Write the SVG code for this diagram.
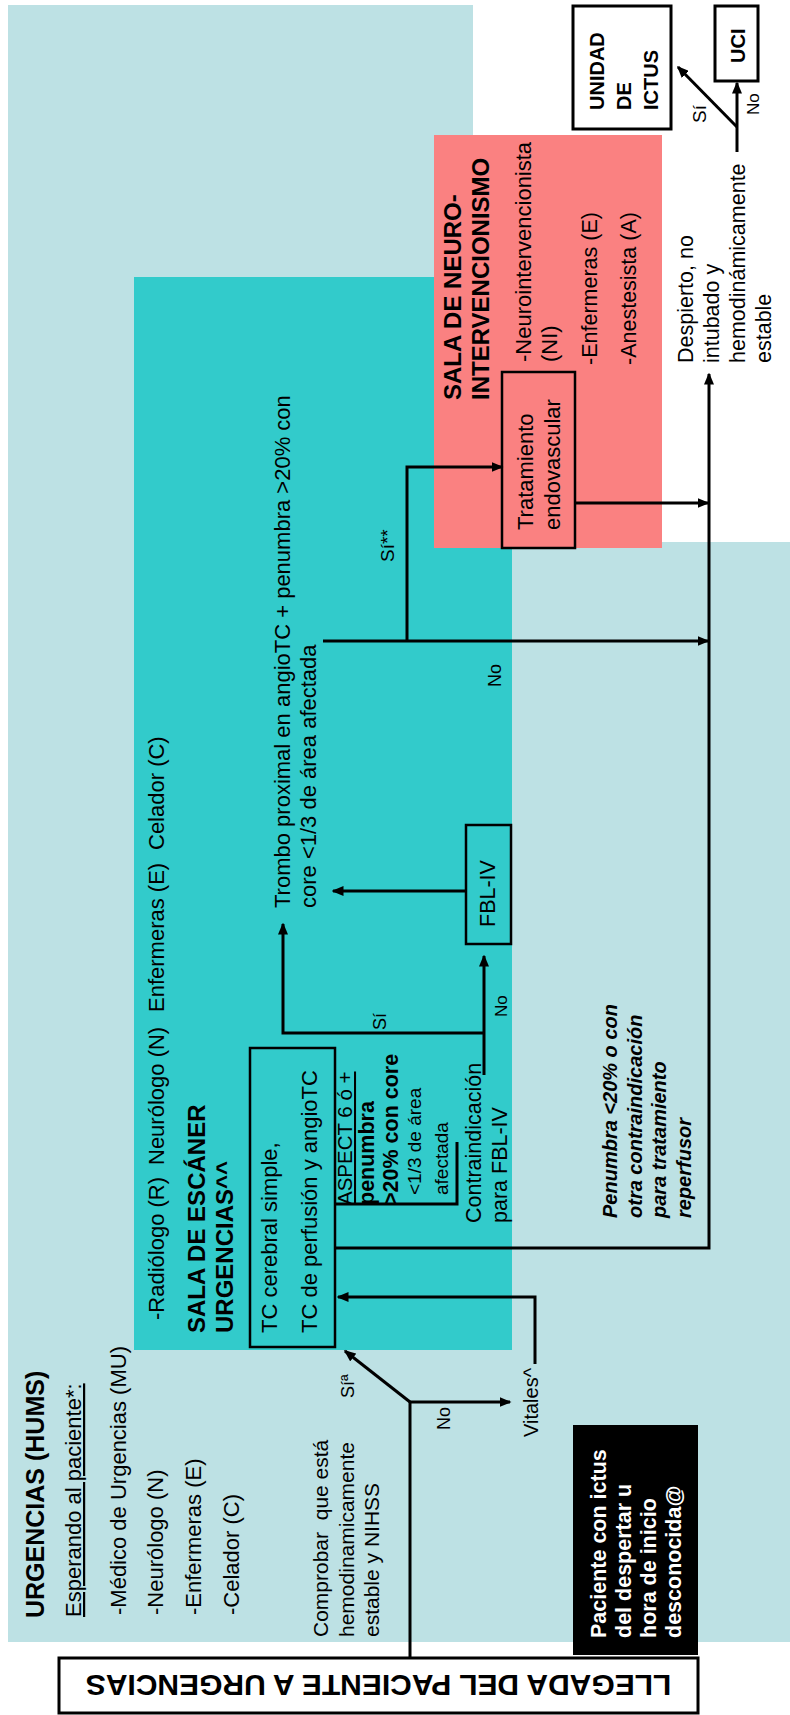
<svg xmlns="http://www.w3.org/2000/svg" width="790" height="1715" viewBox="0 0 790 1715">
<style>
.t{font-family:"Liberation Sans",Arial,Helvetica,sans-serif;font-size:22px;fill:#000}
.b{font-weight:bold}
.bi{font-weight:bold;font-style:italic}
.u{text-decoration:underline}
.w{fill:#fff}
.box{fill:none;stroke:#000;stroke-width:2.5}
.ln{fill:none;stroke:#000;stroke-width:3}
.arr{marker-end:url(#ah)}
</style>
<defs>
<marker id="ah" viewBox="0 0 12 10" refX="10.5" refY="5" markerWidth="12" markerHeight="10" markerUnits="userSpaceOnUse" orient="auto">
<path d="M0,0 L12,5 L0,10 z" fill="#000"/>
</marker>
</defs>
<rect width="790" height="1715" fill="#fff"/>
<g id="zones">
<polygon id="zone-urgencias" points="8,5 473,5 473,542 790,542 790,1642 8,1642" fill="#BDE1E4"/>
<rect id="zone-escaner" x="134" y="277" width="378" height="1073" fill="#32CBCB"/>
<rect id="zone-neuro" x="434" y="135" width="228" height="413" fill="#FA8181"/>
</g>

<g id="connectors">
<path class="ln" d="M410,1658 V1402"/>
<path class="ln arr" d="M410,1402 H510"/>
<path class="ln arr" d="M410,1402 L345,1351"/>
<path class="ln arr" d="M535,1364 V1297 H338"/>
<path class="ln arr" d="M335,1248 H709 V374"/>
<path class="ln" d="M335,1204 H457 V1142"/>
<path class="ln arr" d="M484,1075 V956"/>
<path class="ln arr" d="M484,1033 H283 V924"/>
<path class="ln arr" d="M466,891 H333"/>
<path class="ln arr" d="M323,641 H708"/>
<path class="ln arr" d="M407,641 V467 H502"/>
<path class="ln arr" d="M575,503 H708"/>
<path class="ln arr" d="M737,152 V83"/>
<path class="ln arr" d="M737,127 L678,67"/>
</g>

<g id="labels">
<text class="t" style="font-size:19px" transform="translate(706,123) rotate(-90)">Sí</text>
<text class="t" style="font-size:17px" transform="translate(759,115) rotate(-90)">No</text>
<text class="t" style="font-size:19px" transform="translate(394,562) rotate(-90)">Sí**</text>
<text class="t" style="font-size:18px" transform="translate(501,687) rotate(-90)">No</text>
<text class="t" style="font-size:18px" transform="translate(386,1030) rotate(-90)">Sí</text>
<text class="t" style="font-size:17px" transform="translate(507,1017) rotate(-90)">No</text>
<text class="t" style="font-size:18px" transform="translate(354,1398) rotate(-90)">Síª</text>
<text class="t" style="font-size:18px" transform="translate(450,1430) rotate(-90)">No</text>
</g>

<g id="urgencias-staff">
<text class="t b" style="font-size:25px" transform="translate(44,1618) rotate(-90)">URGENCIAS (HUMS)</text>
<text class="t u" transform="translate(81,1617) rotate(-90)">Esperando al paciente*:</text>
<text class="t" transform="translate(126,1615) rotate(-90)">-Médico de Urgencias (MU)</text>
<text class="t" transform="translate(163,1615) rotate(-90)">-Neurólogo (N)</text>
<text class="t" transform="translate(201,1615) rotate(-90)">-Enfermeras (E)</text>
<text class="t" transform="translate(239,1615) rotate(-90)">-Celador (C)</text>
</g>

<g id="comprobar">
<text class="t" style="font-size:21px" transform="translate(328,1637) rotate(-90)"><tspan x="0" y="0">Comprobar&#160; que está</tspan><tspan x="0" y="25.5">hemodinamicamente</tspan><tspan x="0" y="51">estable y NIHSS</tspan></text>
</g>

<g id="vitales">
<text class="t" style="font-size:20px" transform="translate(538,1437) rotate(-90)">Vitales^</text>
</g>

<g id="paciente-ictus">
<rect x="573" y="1425" width="125" height="230" fill="#000"/>
<text class="t b w" style="font-size:21.5px" transform="translate(606,1638) rotate(-90)"><tspan x="0" y="0">Paciente con ictus</tspan><tspan x="0" y="25">del despertar u</tspan><tspan x="0" y="50">hora de inicio</tspan><tspan x="0" y="75">desconocida@</tspan></text>
</g>

<g id="llegada">
<rect class="box" x="59" y="1658" width="639" height="55" style="stroke-width:3"/>
<text class="t b" style="font-size:30px" text-anchor="middle" transform="translate(378.5,1675) rotate(180)">LLEGADA DEL PACIENTE A URGENCIAS</text>
</g>

<g id="escaner-staff">
<text class="t" transform="translate(164,1320) rotate(-90)">-Radiólogo (R)</text>
<text class="t" transform="translate(164,1165) rotate(-90)">Neurólogo (N)</text>
<text class="t" transform="translate(164,1012) rotate(-90)">Enfermeras (E)</text>
<text class="t" transform="translate(164,850) rotate(-90)">Celador (C)</text>
<text class="t b" style="font-size:24px" transform="translate(205,1333) rotate(-90)"><tspan x="0" y="0">SALA DE ESCÁNER</tspan><tspan x="0" y="28">URGENCIAS^^</tspan></text>
</g>

<g id="tc-box">
<rect class="box" x="250" y="1048" width="85" height="299"/>
<text class="t" transform="translate(277,1333) rotate(-90)">TC cerebral simple,</text>
<text class="t" transform="translate(317,1333) rotate(-90)">TC de perfusión y angioTC</text>
</g>

<g id="aspect">
<text class="t u" style="font-size:20.5px" transform="translate(352,1205) rotate(-90)">ASPECT 6 ó +</text>
<text class="t b" style="font-size:21.5px" transform="translate(374,1205) rotate(-90)">penumbra</text>
<text class="t b" style="font-size:21.5px" transform="translate(398,1205) rotate(-90)">&gt;20% con core</text>
<text class="t" style="font-size:19px" transform="translate(421,1195) rotate(-90)">&lt;1/3 de área</text>
<text class="t" style="font-size:19px" transform="translate(448,1195) rotate(-90)">afectada</text>
</g>

<g id="contraindicacion">
<text class="t" style="font-size:21.5px" transform="translate(481,1223) rotate(-90)"><tspan x="0" y="0">Contraindicación</tspan><tspan x="0" y="26">para FBL-IV</tspan></text>
</g>

<g id="fbl-iv">
<rect class="box" x="466" y="825" width="45" height="119"/>
<text class="t" style="font-size:21.5px" transform="translate(495,927) rotate(-90)">FBL-IV</text>
</g>

<g id="trombo">
<text class="t" transform="translate(290,908) rotate(-90)"><tspan x="0" y="0">Trombo proximal en angioTC + penumbra &gt;20% con</tspan><tspan x="0" y="26">core &lt;1/3 de área afectada</tspan></text>
</g>

<g id="penumbra-note">
<text class="t bi" style="font-size:20px" transform="translate(617,1218) rotate(-90)"><tspan x="0" y="0">Penumbra &lt;20% o con</tspan><tspan x="0" y="24.5">otra contraindicación</tspan><tspan x="0" y="49">para tratamiento</tspan><tspan x="0" y="73.5">reperfusor</tspan></text>
</g>

<g id="neuro-staff">
<text class="t b" style="font-size:24px" transform="translate(461,400) rotate(-90)"><tspan x="0" y="0">SALA DE NEURO-</tspan><tspan x="0" y="28">INTERVENCIONISMO</tspan></text>
<text class="t" transform="translate(531,362) rotate(-90)"><tspan x="0" y="0">-Neurointervencionista</tspan><tspan x="0" y="26">(NI)</tspan></text>
<text class="t" style="font-size:21.5px" transform="translate(597,365) rotate(-90)">-Enfermeras (E)</text>
<text class="t" style="font-size:21.5px" transform="translate(636,365) rotate(-90)">-Anestesista (A)</text>
</g>

<g id="tratamiento">
<rect class="box" x="502" y="372" width="73" height="176"/>
<text class="t" transform="translate(533,530) rotate(-90)"><tspan x="0" y="0">Tratamiento</tspan><tspan x="0" y="27">endovascular</tspan></text>
</g>

<g id="despierto">
<text class="t" style="font-size:21.5px" transform="translate(693,363) rotate(-90)"><tspan x="0" y="0">Despierto, no</tspan><tspan x="0" y="26">intubado y</tspan><tspan x="0" y="52">hemodinámicamente</tspan><tspan x="0" y="78">estable</tspan></text>
</g>

<g id="unidad-ictus">
<rect class="box" x="573" y="6" width="98" height="123" style="stroke-width:3"/>
<text class="t b" style="font-size:20px" transform="translate(604,110) rotate(-90)"><tspan x="0" y="0">UNIDAD</tspan><tspan x="0" y="27">DE</tspan><tspan x="0" y="54">ICTUS</tspan></text>
</g>

<g id="uci">
<rect class="box" x="715" y="6" width="43" height="75" style="stroke-width:3"/>
<text class="t b" style="font-size:20px" transform="translate(745,63) rotate(-90)">UCI</text>
</g>
</svg>
